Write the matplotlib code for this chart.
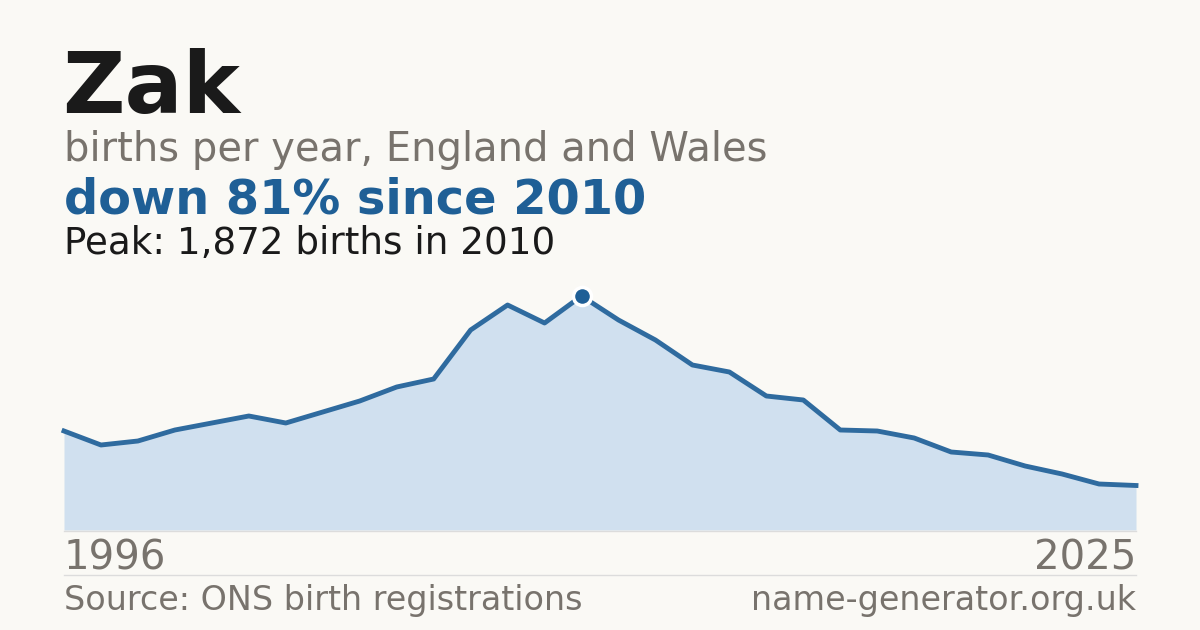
import numpy as np
import matplotlib.pyplot as plt

years = np.arange(1996, 2026)
births = [792, 680, 712, 800, 856, 912, 856, 944, 1032, 1144,
          1208, 1600, 1800, 1656, 1872, 1680, 1520, 1320, 1264, 1072,
          1040, 800, 792, 736, 624, 600, 512, 448, 368, 356]

name = 'Zak'
subtitle = 'births per year, England and Wales'
peak_year = 2010
peak_val = 1872
change_txt = 'down 81% since 2010'
peak_txt = 'Peak: 1,872 births in 2010'
source_txt = 'Source: ONS birth registrations'
site_txt = 'name-generator.org.uk'

bg = '#faf9f5'
blue = '#1f5f96'
line_col = '#2f6b9f'
fill_col = '#d0e0ef'
grey = '#78736d'

W, H = 1200, 630
fig = plt.figure(figsize=(12, 6.3), dpi=100, facecolor=bg)

def px(x, y):
    return x / W, 1 - y / H

ax = fig.add_axes([64 / W, (H - 530) / H, 1072 / W, 250 / H])
ax.set_facecolor('none')
ax.fill_between(years, births, 0, color=fill_col, lw=0)
ax.plot(years, births, color=line_col, lw=3.5, solid_joinstyle='round', clip_on=False)
ax.plot([peak_year], [peak_val], 'o', ms=13, mfc=blue, mec='white', mew=2.5, clip_on=False, zorder=5)
ax.set_xlim(1996, 2025)
ax.set_ylim(0, 2000)
ax.axis('off')

# baseline and separator
fig.add_artist(plt.Line2D([64 / W, 1136 / W], [1 - 530.5 / H] * 2, color='#dcdcdc', lw=1))
fig.add_artist(plt.Line2D([64 / W, 1136 / W], [1 - 574.5 / H] * 2, color='#dcdcdc', lw=1))

fig.text(*px(62, 113), name, fontsize=62, fontweight='bold', color='#1a1a1a', va='baseline')
fig.text(*px(64, 161), subtitle, fontsize=28.8, color=grey, va='baseline')
fig.text(*px(64, 214), change_txt, fontsize=34.5, fontweight='bold', color=blue, va='baseline')
fig.text(*px(64, 254), peak_txt, fontsize=26.8, color='#1a1a1a', va='baseline')

fig.text(*px(64, 570), str(years[0]), fontsize=29, color=grey, va='baseline')
fig.text(*px(1136, 570), str(years[-1]), fontsize=29, color=grey, va='baseline', ha='right')

fig.text(*px(64, 610), source_txt, fontsize=24, color=grey, va='baseline')
fig.text(*px(1136, 610), site_txt, fontsize=24, color=grey, va='baseline', ha='right')

fig.savefig('out.png', dpi=100, facecolor=bg)
